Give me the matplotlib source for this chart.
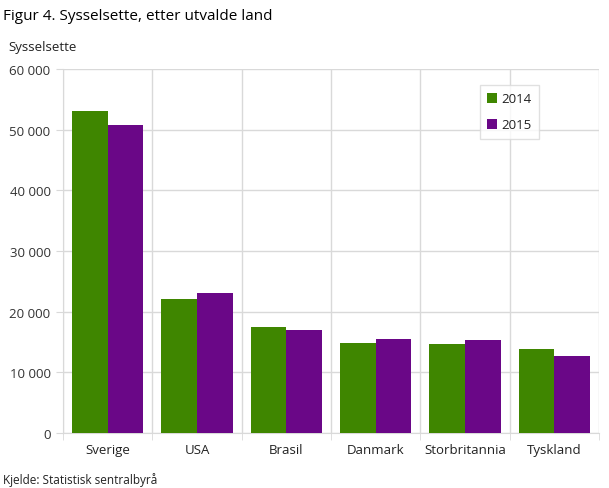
import matplotlib
matplotlib.use("Agg")
import matplotlib.pyplot as plt
import numpy as np
from matplotlib.ticker import FuncFormatter

plt.rcParams['font.family'] = ['Open Sans', 'DejaVu Sans']

categories = ["Sverige", "USA", "Brasil", "Danmark", "Storbritannia", "Tyskland"]
series_names = ["2014", "2015"]
values_2014 = [53100, 22100, 17500, 14800, 14700, 13800]
values_2015 = [50800, 23100, 17000, 15500, 15300, 12700]
colors = ["#3f8600", "#6a0787"]

fig = plt.figure(figsize=(6.09, 4.89), dpi=100)
ax = fig.add_axes([63/609, 1-434/489, 536/609, 364/489])

x = np.arange(len(categories))
w = 0.4
ax.bar(x - w/2, values_2014, w, color=colors[0], label=series_names[0], zorder=3)
ax.bar(x + w/2, values_2015, w, color=colors[1], label=series_names[1], zorder=3)

ax.set_xlim(-0.5, len(categories) - 0.5)
ax.set_ylim(0, 60000)
ax.set_yticks(np.arange(0, 60001, 10000))
ax.yaxis.set_major_formatter(FuncFormatter(lambda v, p: f"{int(v):,}".replace(",", " ")))
ax.set_xticks(x)
ax.set_xticklabels(categories)
ax.set_xticks(np.arange(-0.5, len(categories)), minor=True)

grid_c = "#d9d9d9"
ax.grid(axis='y', color=grid_c, linewidth=1, zorder=0)
ax.grid(axis='x', which='minor', color=grid_c, linewidth=1, zorder=0)
for s in ['top', 'right']:
    ax.spines[s].set_visible(False)
ax.spines['left'].set_color(grid_c)
ax.spines['bottom'].set_color(grid_c)
ax.tick_params(axis='y', length=5, color=grid_c, labelcolor="#333333", labelsize=9.5, pad=4)
ax.tick_params(axis='x', which='major', length=0, labelcolor="#222222", labelsize=9.5, pad=7)
ax.tick_params(axis='x', which='minor', length=5, color=grid_c)

leg = ax.legend(loc='upper left', bbox_to_anchor=(0.778, 0.956), frameon=True, fancybox=False,
                handlelength=0.75, handleheight=0.75, handletextpad=0.3, labelspacing=1.0,
                fontsize=9.5, borderpad=0.55, borderaxespad=0)
leg.get_frame().set_edgecolor(grid_c)
leg.get_frame().set_linewidth(1)
for t in leg.get_texts():
    t.set_color("#222222")

fig.text(3/609, 1-17/489, "Figur 4. Sysselsette, etter utvalde land", fontsize=11, color="#000000", va='center', ha='left')
fig.text(8/609, 1-48/489, "Sysselsette", fontsize=9.5, color="#222222", va='center', ha='left')
fig.text(3/609, 1-480/489, "Kjelde: Statistisk sentralbyrå", fontsize=8.5, color="#222222", va='center', ha='left')

fig.savefig("out.png", dpi=100)
